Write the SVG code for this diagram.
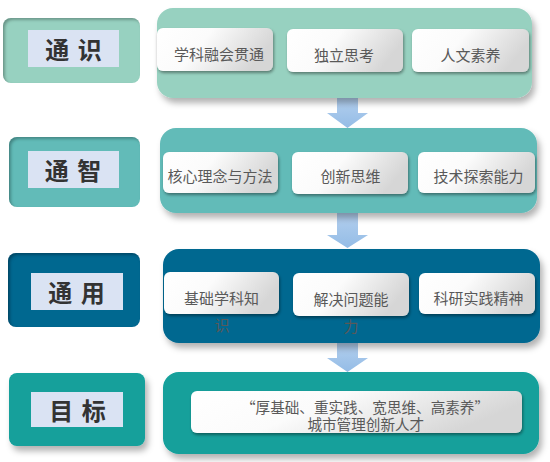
<svg xmlns="http://www.w3.org/2000/svg" width="550" height="462" viewBox="0 0 550 462">
<defs>
<linearGradient id="btn" x1="0" y1="0" x2="1" y2="0.3">
<stop offset="0" stop-color="#ffffff"/>
<stop offset="0.45" stop-color="#fbfbfb"/>
<stop offset="1" stop-color="#d6d6d6"/>
</linearGradient>
<linearGradient id="arr" x1="0" y1="0" x2="0" y2="1">
<stop offset="0" stop-color="#b3cfee"/>
<stop offset="1" stop-color="#94bce6"/>
</linearGradient>
<filter id="pshadow" x="-10%" y="-10%" width="125%" height="135%">
<feGaussianBlur in="SourceAlpha" stdDeviation="3"/>
<feOffset dx="3" dy="5" result="b"/>
<feFlood flood-color="#000" flood-opacity="0.3"/>
<feComposite in2="b" operator="in" result="s"/>
<feMerge><feMergeNode in="s"/><feMergeNode in="SourceGraphic"/></feMerge>
</filter>
<filter id="bshadow" x="-10%" y="-20%" width="125%" height="150%">
<feGaussianBlur in="SourceAlpha" stdDeviation="1.5"/>
<feOffset dx="1" dy="2" result="b"/>
<feFlood flood-color="#000" flood-opacity="0.4"/>
<feComposite in2="b" operator="in" result="s"/>
<feMerge><feMergeNode in="s"/><feMergeNode in="SourceGraphic"/></feMerge>
</filter>
<filter id="inset" x="-5%" y="-5%" width="110%" height="110%">
<feFlood flood-color="#000" flood-opacity="0.55" result="f"/>
<feComposite in="f" in2="SourceAlpha" operator="out" result="o"/>
<feGaussianBlur in="o" stdDeviation="1.5" result="ob"/>
<feOffset in="ob" dx="2" dy="2" result="oo"/>
<feComposite in="oo" in2="SourceAlpha" operator="in" result="is"/>
<feMerge><feMergeNode in="SourceGraphic"/><feMergeNode in="is"/></feMerge>
</filter>
</defs>
<style>
.lbl{fill:#dae3f3}
.lt{font-family:"Noto Sans CJK SC","Noto Sans",sans-serif;font-weight:bold;font-size:24px;fill:#333333;text-anchor:middle;dominant-baseline:central;word-spacing:3px}
.bt{font-family:"Noto Sans CJK SC","Noto Sans",sans-serif;font-size:15px;fill:#595959;text-anchor:middle;dominant-baseline:central}
.bt2{font-family:"Noto Sans CJK SC","Noto Sans",sans-serif;font-size:14.6px;fill:#595959;text-anchor:middle;dominant-baseline:central}
.btn{fill:url(#btn);filter:url(#bshadow)}
.arrow{fill:url(#arr)}
</style>
<rect width="550" height="462" fill="#ffffff"/>

<g id="connectors">
<path class="arrow" d="M337,98 H358 V113 H368 L347.5,128 L327,113 H337 Z"/>
<path class="arrow" d="M337,213 H358 V235 H368 L347.5,248 L327,235 H337 Z"/>
<path class="arrow" d="M337,343 H358 V358 H368 L347.5,372 L327,358 H337 Z"/>
</g>

<g id="tongshi">
<rect x="3" y="18" width="137" height="65" rx="8" fill="#97d1c0" filter="url(#inset)"/>
<rect class="lbl" x="28" y="30" width="91" height="37"/>
<text class="lt" x="73.5" y="48.5">通 识</text>
</g>
<g id="tongshi-panel">
<rect x="157" y="8" width="375" height="90" rx="16" fill="#97d1c0" filter="url(#pshadow)"/>
<rect class="btn" x="157" y="28" width="116" height="43" rx="6"/>
<text class="bt" x="219" y="53.5">学科融会贯通</text>
<rect class="btn" x="287" y="29" width="116" height="43" rx="6"/>
<text class="bt" x="344" y="54">独立思考</text>
<rect class="btn" x="412" y="29" width="117" height="43" rx="6"/>
<text class="bt" x="470.5" y="54">人文素养</text>
</g>

<g id="tongzhi">
<rect x="9" y="137" width="131" height="70" rx="8" fill="#62bbb8" filter="url(#inset)"/>
<rect class="lbl" x="28" y="151" width="91" height="37"/>
<text class="lt" x="73" y="169.5">通 智</text>
</g>
<g id="tongzhi-panel">
<rect x="160" y="128" width="377" height="85" rx="16" fill="#62bbb8" filter="url(#pshadow)"/>
<rect class="btn" x="163" y="152" width="115" height="41" rx="6"/>
<text class="bt" x="220" y="175.5">核心理念与方法</text>
<rect class="btn" x="292" y="152" width="116" height="42" rx="6"/>
<text class="bt" x="350.5" y="175.5">创新思维</text>
<rect class="btn" x="418" y="152" width="117" height="41" rx="6"/>
<text class="bt" x="478.5" y="175.5">技术探索能力</text>
</g>

<g id="tongyong">
<rect x="8" y="253" width="132" height="74" rx="8" fill="#006790" filter="url(#inset)"/>
<rect class="lbl" x="31" y="273" width="92" height="37"/>
<text class="lt" x="76.5" y="291.5">通 用</text>
</g>
<g id="tongyong-panel">
<rect x="163" y="249" width="377" height="94" rx="16" fill="#006790" filter="url(#pshadow)"/>
<rect class="btn" x="164" y="272" width="115" height="42" rx="6"/>
<text class="bt" x="221.5" y="297"><tspan x="221.5">基础学科知</tspan><tspan x="222" dy="27">识</tspan></text>
<rect class="btn" x="293" y="273" width="116" height="43" rx="6"/>
<text class="bt" x="351" y="298"><tspan x="351">解决问题能</tspan><tspan x="351" dy="27">力</tspan></text>
<rect class="btn" x="419" y="273" width="116" height="41" rx="6"/>
<text class="bt" x="478.5" y="297.5">科研实践精神</text>
</g>

<g id="mubiao">
<rect x="9" y="373" width="136" height="73" rx="8" fill="#12a09b" filter="url(#pshadow)"/>
<rect class="lbl" x="31" y="392" width="92" height="35"/>
<text class="lt" x="77.5" y="409.5">目 标</text>
</g>
<g id="mubiao-panel">
<rect x="163" y="372" width="376" height="82" rx="16" fill="#12a09b" filter="url(#pshadow)"/>
<rect class="btn" x="191" y="391" width="331" height="42" rx="6"/>
<text class="bt2" x="365.5" y="406"><tspan x="365">“厚基础、重实践、宽思维、高素养”</tspan><tspan x="365.8" dy="17">城市管理创新人才</tspan></text>
</g>
</svg>
